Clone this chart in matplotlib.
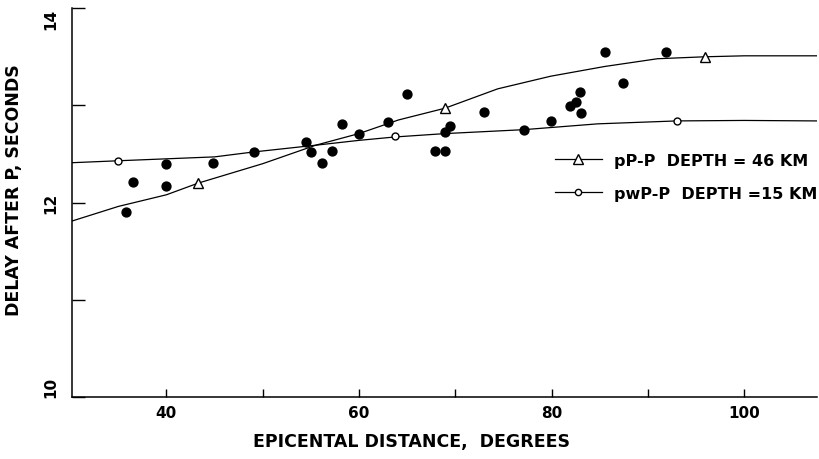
import matplotlib
matplotlib.use("Agg")
import matplotlib.pyplot as plt

plt.rcParams['font.family'] = ['DejaVu Sans']
plt.rcParams['font.weight'] = 'bold'

# observed delays (filled dots)
obs_dist = [35.8, 36.5, 40.0, 40.0, 44.8, 49.1, 54.5, 55.0, 56.2, 57.2, 58.2,
            60.0, 63.0, 65.0, 67.9, 68.9, 68.9, 69.5, 73.0, 77.1, 79.9, 81.9,
            82.5, 83.0, 83.1, 85.5, 87.4, 91.9]
obs_delay = [11.90, 12.21, 12.40, 12.17, 12.41, 12.52, 12.62, 12.52, 12.41, 12.53, 12.81,
             12.71, 12.83, 13.12, 12.53, 12.53, 12.73, 12.79, 12.93, 12.75, 12.84, 12.99,
             13.03, 13.14, 12.92, 13.55, 13.23, 13.55]

# theoretical curves
pp_dist = [30.2, 35, 40, 43.3, 50, 55.5, 60, 64.1, 68.9, 74.4, 79.9, 85.5, 91, 95.9, 100, 107.5]
pp_delay = [11.81, 11.96, 12.08, 12.20, 12.40, 12.59, 12.71, 12.85, 12.97, 13.17, 13.30,
            13.40, 13.48, 13.50, 13.51, 13.51]
pp_mark_dist = [43.3, 68.9, 95.9]
pp_mark_delay = [12.20, 12.97, 13.50]

pwp_dist = [30.2, 35, 40, 45, 49, 55.5, 60, 63.75, 69, 77.1, 84.8, 93, 100, 107.5]
pwp_delay = [12.41, 12.43, 12.45, 12.47, 12.52, 12.59, 12.64, 12.675, 12.71, 12.75,
             12.81, 12.84, 12.845, 12.84]
pwp_mark_dist = [35.0, 63.75, 93.05]
pwp_mark_delay = [12.43, 12.68, 12.84]

fig = plt.figure(figsize=(8.19, 4.6), dpi=100)
ax = fig.add_axes([0.088, 0.135, 0.91, 0.845])

ax.plot(obs_dist, obs_delay, 'o', color='black', ms=6.4, zorder=3)

ax.plot(pp_dist, pp_delay, '-', color='black', lw=0.9)
ax.plot(pp_mark_dist, pp_mark_delay, '^', mfc='white', mec='black', ms=6.5, mew=1.0, zorder=4)
ax.plot(pwp_dist, pwp_delay, '-', color='black', lw=0.9)
ax.plot(pwp_mark_dist, pwp_mark_delay, 'o', mfc='white', mec='black', ms=5, mew=1.0, zorder=4)

# legend proxies
h1, = ax.plot([], [], '-^', color='black', mfc='white', mec='black', ms=6.5, lw=0.9)
h2, = ax.plot([], [], '-o', color='black', mfc='white', mec='black', ms=4.5, lw=0.9)
ax.legend([h1, h2], ['pP-P  DEPTH = 46 KM', 'pwP-P  DEPTH =15 KM'],
          loc='upper left', bbox_to_anchor=(0.678, 0.666), bbox_transform=fig.transFigure,
          frameon=False, borderpad=0, borderaxespad=0, handlelength=2.9,
          handletextpad=0.75, labelspacing=1.15, prop={'size': 11.5, 'weight': 'bold'})

ax.set_xlim(30.2, 107.6)
ax.set_ylim(10, 14)

ax.set_xticks([40, 50, 60, 70, 80, 90, 100])
ax.set_xticklabels(['40', '', '60', '', '80', '', '100'])
ax.set_yticks([10, 11, 12, 13, 14])
ax.set_yticklabels(['10', '', '12', '', '14'], rotation=90, va='center')
ax.get_yticklabels()[0].set_va('bottom')
ax.get_yticklabels()[4].set_va('top')

ax.tick_params(axis='x', direction='in', length=6, width=1, labelsize=11, pad=6)
ax.tick_params(axis='y', direction='in', length=9, width=1, labelsize=11, pad=10)

for s in ['top', 'right']:
    ax.spines[s].set_visible(False)
for s in ['left', 'bottom']:
    ax.spines[s].set_linewidth(1.1)

ax.set_xlabel('EPICENTAL DISTANCE,  DEGREES', fontsize=12.5, fontweight='bold')
ax.set_ylabel('DELAY AFTER P, SECONDS', fontsize=12.5, fontweight='bold')
ax.xaxis.set_label_coords(0.455, -0.090)
ax.yaxis.set_label_coords(-0.066, 0.535)

fig.savefig('out.png', dpi=100)
